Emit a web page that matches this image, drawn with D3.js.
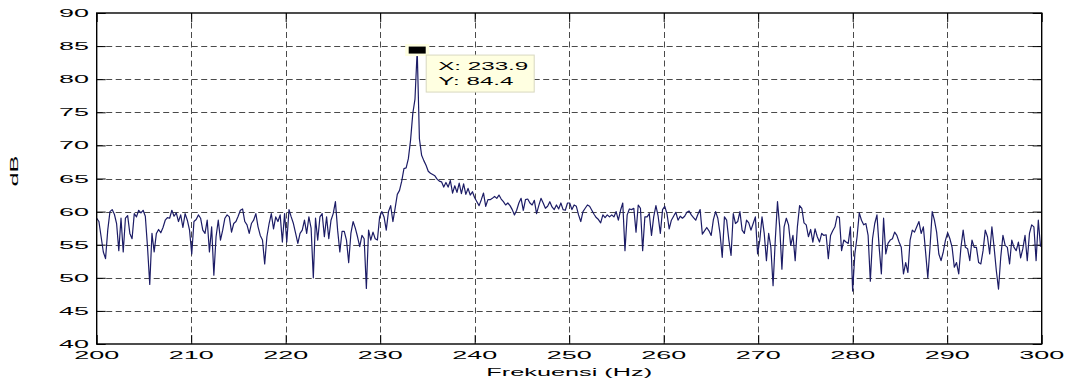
<!DOCTYPE html>
<html>
<head>
<meta charset="utf-8">
<script src="https://cdn.jsdelivr.net/npm/d3@7"></script>
<style>
  body { margin: 0; background: #fff; }
  svg { display: block; font-family: "Liberation Sans", Arial, sans-serif; }
</style>
</head>
<body>
<svg id="chart" width="1075" height="380"></svg>
<script>
// spectrum data (dB per FFT bin, starting at 200 Hz)
const freqStart = 200;
const binHz = 0.2339;
const dbValues = [
  59, 58.5, 56.2, 53.9, 52.9, 57.2, 60, 60.3, 59.6, 58.2,
  54.1, 59, 53.9, 59, 59.4, 56.7, 55.9, 59.7, 59.2, 60.2,
  59.8, 60.2, 59.3, 54.6, 49, 56.7, 53.9, 56.7, 57.3, 56.8,
  57.6, 58.7, 59.1, 59, 60.2, 59.3, 59.8, 58.5, 59.5, 57.6,
  59.7, 58.7, 57.2, 53.6, 58.5, 58.8, 59.5, 59, 57.2, 56.7,
  58.7, 53.9, 57.7, 50.4, 56.2, 58.7, 55.7, 57.2, 59, 59.5,
  59.2, 56.9, 58.2, 58.5, 59.3, 60.2, 60.4, 58.5, 58.0, 56.7,
  58.2, 58.7, 59.7, 57.7, 56.4, 55.7, 52.1, 56.2, 58.2, 59.7,
  57.4, 59.2, 58.5, 59.5, 55.4, 59.7, 55.4, 60.3, 59.2, 58.2,
  56.7, 55.2, 56.7, 57.2, 58.7, 56.7, 59.2, 57.5, 50, 59,
  55.7, 59.2, 59.7, 56.2, 59.2, 55.9, 58.7, 59.7, 61.5, 57.2,
  53.9, 57, 57, 55.7, 52.3, 56.7, 58.5, 57.5, 56.2, 54.7,
  56.4, 55.9, 48.4, 57.2, 55.7, 56.9, 55.9, 55.7, 59.2, 60,
  59.2, 57.2, 60, 60.9, 58.5, 60.5, 62.6, 63.2, 64.6, 66.5,
  66.6, 68, 70.8, 74.8, 77, 84.4, 71, 68.5, 67.7, 67,
  66.1, 65.8, 65.6, 65.4, 64.9, 64.6, 64.5, 63.7, 64.4, 63.7,
  64.7, 62.8, 63.9, 62.9, 64.3, 62.7, 64.2, 62.6, 63.5, 62.5,
  63, 62.1, 61.5, 60.9, 61.8, 62.8, 60.8, 61.8, 61.8, 62,
  62.3, 62, 62.5, 61.9, 61.5, 61, 61.3, 60.9, 60.3, 59.5,
  60.2, 61.3, 62, 60.2, 61.8, 61.9, 61.3, 61, 61.7, 59.7,
  60.9, 62, 61.3, 60.5, 60.8, 61.5, 60.7, 60.3, 61, 60.4,
  61.3, 60.3, 60.2, 61.3, 61.3, 60.3, 61, 60.8, 59.5, 58.5,
  60, 60.5, 61, 60.8, 60.2, 59.6, 59.1, 58.8, 58.3, 59.5,
  59.1, 59.5, 59.2, 59.5, 59.2, 60, 58.7, 60.2, 61.3, 54.1,
  59.5, 60.4, 60.3, 60.5, 56.9, 61, 60.5, 54.1, 59.2, 59.2,
  59.7, 56.4, 59.2, 60.9, 59.3, 56.7, 60.3, 60.8, 59.7, 57.4,
  58.7, 59.3, 59.9, 58.7, 59.3, 59, 59.3, 59.9, 60.1, 59.5,
  59.1, 58.7, 59.6, 60.3, 56.6, 57.1, 57.6, 57.1, 56.4, 58.8,
  60, 59, 56.7, 53.1, 59.2, 58.7, 55.7, 53.4, 59.7, 58.2,
  58.5, 60, 57.2, 56.7, 58.7, 58.3, 57.2, 58.2, 59.2, 53.6,
  55.7, 59.2, 56.7, 52.6, 56.7, 54.6, 48.8, 55.7, 61.5, 57.7,
  51.3, 57.7, 59, 58, 54.9, 56.4, 52.6, 57.7, 60.9, 60.5,
  58.3, 58, 56.2, 57.3, 55.4, 57.4, 56.2, 55.4, 56.7, 56.4,
  56.5, 52.9, 56.4, 57.1, 57.7, 59.3, 59.1, 54.1, 55.7, 55.4,
  55.2, 57.7, 48, 53.6, 56.2, 59.8, 58.7, 58, 58.2, 56.4,
  49.5, 55.9, 58.2, 59.5, 54.6, 50.6, 59, 53.6, 55.2, 55.7,
  55.9, 56.9, 56.4, 55.4, 54.6, 50.6, 52.3, 50.8, 55.7, 57.2,
  56.9, 57.7, 58.5, 56.7, 57.7, 53.9, 50, 54.6, 60, 58.7,
  56.9, 53.6, 52.6, 53.9, 55.7, 56.8, 55.9, 54.6, 51.6, 52.3,
  50.6, 54.6, 57.2, 54.6, 54.4, 52.6, 55.7, 54.6, 54.6, 52.3,
  52.1, 54.1, 57.2, 56.2, 53.6, 57.7, 54.6, 51.1, 48.3, 53.1,
  56.4, 54.9, 54.6, 52.1, 55.7, 54.6, 54.1, 55.4, 53, 54.4,
  56.4, 52.6, 56.7, 58, 57.7, 52.6, 58.7, 54.7
];
const xTicks = [200, 210, 220, 230, 240, 250, 260, 270, 280, 290, 300];
const yTicks = [40, 45, 50, 55, 60, 65, 70, 75, 80, 85, 90];
const peakIndex = 145;
const tipLines = ["X: 233.9", "Y: 84.4"];

const box = { left: 96.7, right: 1041.7, top: 13, bottom: 344 };
const textStretch = 2.45;   // the original figure text is drawn very wide

const svg = d3.select('#chart');

const x = d3.scaleLinear().domain([200, 300]).range([box.left, box.right]);
const y = d3.scaleLinear().domain([40, 90]).range([box.bottom, box.top]);

const points = dbValues.map((v, i) => ({ f: freqStart + i * binHz, db: v }));

svg.append('clipPath').attr('id', 'plotClip')
  .append('rect')
  .attr('x', box.left).attr('y', box.top)
  .attr('width', box.right - box.left).attr('height', box.bottom - box.top);

// dashed grid
const grid = svg.append('g').attr('class', 'grid');
grid.selectAll('line.gx')
  .data(xTicks.slice(1, -1))
  .enter().append('line')
  .attr('x1', d => Math.round(x(d)) + 0.5).attr('x2', d => Math.round(x(d)) + 0.5)
  .attr('y1', box.top).attr('y2', box.bottom);
grid.selectAll('line.gy')
  .data(yTicks.slice(1, -1))
  .enter().append('line')
  .attr('y1', d => Math.round(y(d)) + 0.5).attr('y2', d => Math.round(y(d)) + 0.5)
  .attr('x1', box.left).attr('x2', box.right);
grid.selectAll('line')
  .attr('stroke', '#4a4a4a')
  .attr('stroke-width', 1)
  .attr('stroke-dasharray', '6,3.5');

// inward tick marks on all four sides
const tickLen = 9;
const axisBottom = d3.axisBottom(x).tickValues(xTicks).tickSize(-tickLen).tickFormat('');
const axisTop = d3.axisTop(x).tickValues(xTicks).tickSize(-tickLen).tickFormat('');
const axisLeft = d3.axisLeft(y).tickValues(yTicks).tickSize(-tickLen).tickFormat('');
const axisRight = d3.axisRight(y).tickValues(yTicks).tickSize(-tickLen).tickFormat('');

svg.append('g').attr('transform', `translate(0,${box.bottom})`).call(axisBottom);
svg.append('g').attr('transform', `translate(0,${box.top})`).call(axisTop);
svg.append('g').attr('transform', `translate(${box.left},0)`).call(axisLeft);
svg.append('g').attr('transform', `translate(${box.right},0)`).call(axisRight);
svg.selectAll('.domain').remove();
svg.selectAll('.tick line').attr('stroke', '#000').attr('stroke-width', 1);

// spectrum line
const line = d3.line().x(d => x(d.f)).y(d => y(d.db));
svg.append('path')
  .datum(points)
  .attr('clip-path', 'url(#plotClip)')
  .attr('fill', 'none')
  .attr('stroke', '#1c1c66')
  .attr('stroke-width', 1.2)
  .attr('stroke-linejoin', 'round')
  .attr('d', line);

// axes box
svg.append('rect')
  .attr('x', box.left).attr('y', box.top)
  .attr('width', box.right - box.left).attr('height', box.bottom - box.top)
  .attr('fill', 'none').attr('stroke', '#000').attr('stroke-width', 1.4);

// tick labels (wide text)
svg.selectAll('g.ylab')
  .data(yTicks)
  .enter().append('g')
  .attr('transform', d => `translate(89,${y(d) + 4}) scale(${textStretch},1)`)
  .append('text')
  .attr('text-anchor', 'end')
  .attr('font-size', 11)
  .text(d => d);

svg.selectAll('g.xlab')
  .data(xTicks)
  .enter().append('g')
  .attr('transform', d => `translate(${x(d)},358.5) scale(${textStretch},1)`)
  .append('text')
  .attr('text-anchor', 'middle')
  .attr('font-size', 11)
  .text(d => d);

// axis titles
svg.append('g')
  .attr('transform', `translate(${(box.left + box.right) / 2},376) scale(2.3,1)`)
  .append('text')
  .attr('text-anchor', 'middle')
  .attr('font-size', 11)
  .text('Frekuensi (Hz)');

svg.append('g')
  .attr('transform', 'translate(18.3,171) rotate(-90) scale(2.3,1)')
  .append('text')
  .attr('text-anchor', 'middle')
  .attr('font-size', 11)
  .text('dB');

// data tip at the peak
const pk = points[peakIndex];
const px = x(pk.f), py = y(pk.db);

svg.append('rect')
  .attr('x', px - 12).attr('y', py - 6)
  .attr('width', 24).attr('height', 12)
  .attr('fill', '#ffffe1');
svg.append('rect')
  .attr('x', px - 8.5).attr('y', py - 3.5)
  .attr('width', 17).attr('height', 7)
  .attr('fill', '#000');

const tip = svg.append('g').attr('transform', `translate(${px + 9},${py + 5})`);
tip.append('rect')
  .attr('x', 0).attr('y', 0)
  .attr('width', 108).attr('height', 37)
  .attr('fill', '#ffffe1')
  .attr('stroke', '#d8d8c0')
  .attr('stroke-width', 1);
tip.selectAll('g.tipline')
  .data(tipLines)
  .enter().append('g')
  .attr('transform', (d, i) => `translate(12,${15 + i * 14.5}) scale(2.2,1)`)
  .append('text')
  .attr('font-size', 11)
  .text(d => d);
</script>
</body>
</html>
